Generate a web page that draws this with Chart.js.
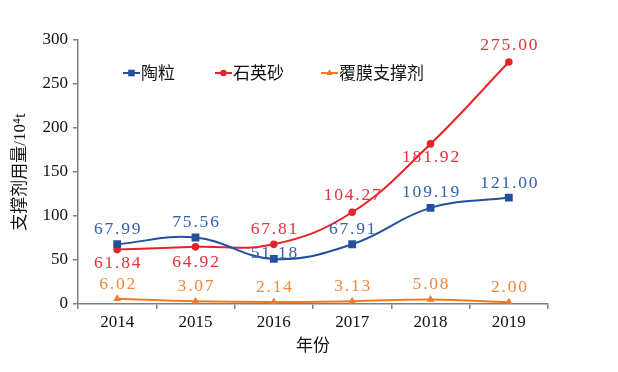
<!DOCTYPE html>
<html>
<head>
<meta charset="utf-8">
<script src="https://cdn.jsdelivr.net/npm/chart.js@4.4.1/dist/chart.umd.min.js"></script>
<style>
  html, body { margin: 0; padding: 0; background: #fff; }
  #wrap { width: 618px; height: 372px; position: relative; }
</style>
</head>
<body>
<div id="wrap"><canvas id="c"></canvas></div>
<script>
// ── datos ──
var YEARS = ['2014', '2015', '2016', '2017', '2018', '2019'];
var TAOLI = [67.99, 75.56, 51.18, 67.91, 109.19, 121.00];      // 陶粒
var SHIYING = [61.84, 64.92, 67.81, 104.27, 181.92, 275.00];  // 石英砂
var FUMO = [6.02, 3.07, 2.14, 3.13, 5.08, 2.00];              // 覆膜支撑剂
var Y_TICKS = [0, 50, 100, 150, 200, 250, 300];

// desplazamiento vertical de cada etiqueta respecto a su punto
var DY_TAOLI = [-15, -15, -6, -15, -16, -14];
var DY_SHIYING = [14, 16, -15, -17, 13, -17];
var DY_FUMO = [-14, -15, -15, -15, -15, -15];

var BLUE = '#234f9e', RED = '#e5242a', ORANGE = '#ee7a2a';
var SERIF = '"Liberation Serif", "Times New Roman", serif';
var CJK = '"Liberation Serif", "Noto Sans CJK SC", sans-serif';

var labelPlugin = {
  id: 'ptLabels',
  afterDatasetsDraw: function (chart) {
    var ctx = chart.ctx;
    var cols = ['#3261ad', '#e8303a', '#f0883a'];
    var dys = [DY_TAOLI, DY_SHIYING, DY_FUMO];
    ctx.save();
    ctx.font = '17.5px ' + SERIF;
    try { ctx.letterSpacing = '1.8px'; } catch (e) {}
    ctx.textAlign = 'center';
    ctx.textBaseline = 'middle';
    chart.data.datasets.forEach(function (ds, i) {
      var meta = chart.getDatasetMeta(i);
      ctx.fillStyle = cols[i];
      meta.data.forEach(function (pt, j) {
        ctx.fillText(ds.data[j].toFixed(2), pt.x + 1, pt.y + dys[i][j]);
      });
    });
    ctx.restore();
  }
};

var legendPlugin = {
  id: 'inLegend',
  afterDraw: function (chart) {
    var ctx = chart.ctx;
    var items = [[123, 0], [215, 1], [321, 2]];
    ctx.save();
    ctx.font = '17px "Noto Sans CJK SC", sans-serif';
    ctx.textBaseline = 'middle';
    items.forEach(function (it) {
      var ds = chart.data.datasets[it[1]];
      var y = 73;
      ctx.strokeStyle = ds.borderColor; ctx.lineWidth = 2;
      ctx.beginPath(); ctx.moveTo(it[0], y); ctx.lineTo(it[0] + 17, y); ctx.stroke();
      ctx.fillStyle = ds.borderColor;
      Chart.helpers.drawPoint(ctx, { pointStyle: ds.pointStyle, radius: ds.pointRadius * 0.85, borderWidth: 0 }, it[0] + 8.5, y);
      ctx.fillStyle = '#111';
      ctx.fillText(ds.label, it[0] + 18, y);
    });
    ctx.restore();
  }
};

function mk(label, data, col, style, r) {
  return { label: label, data: data, borderColor: col, backgroundColor: col, borderWidth: 2,
    pointStyle: style, pointRadius: r, pointHoverRadius: r, pointBorderWidth: 0, tension: 0.4, fill: false };
}

new Chart(document.getElementById('c'), {
  type: 'line',
  data: {
    labels: YEARS,
    datasets: [
      mk('陶粒', TAOLI, BLUE, 'rect', 5.5),
      mk('石英砂', SHIYING, RED, 'circle', 3.8),
      mk('覆膜支撑剂', FUMO, ORANGE, 'triangle', 4.5)
    ]
  },
  plugins: [labelPlugin, legendPlugin],
  options: {
    responsive: true, maintainAspectRatio: false, animation: false,
    layout: { padding: { left: 0, right: 70, top: 40, bottom: 0 } },
    plugins: { legend: { display: false }, tooltip: { enabled: false } },
    scales: {
      x: {
        offset: true,
        grid: { offset: true, drawOnChartArea: false, drawTicks: true, tickLength: 5, color: '#808080', lineWidth: 1.5 },
        border: { color: '#808080', width: 1.5 },
        ticks: { color: '#111', font: { family: SERIF, size: 17 }, padding: 3, maxRotation: 0 },
        title: { display: true, text: '年份', color: '#111', font: { family: CJK, size: 17 }, padding: { top: 4, bottom: 15 } },
        afterFit: function (s) { s.height = 68; }
      },
      y: {
        min: 0, max: 300,
        afterBuildTicks: function (s) { s.ticks = Y_TICKS.map(function (v) { return { value: v }; }); },
        grid: { drawOnChartArea: false, drawTicks: true, tickLength: 5, color: '#808080', lineWidth: 1.5 },
        border: { color: '#808080', width: 1.5 },
        ticks: { color: '#111', font: { family: SERIF, size: 17 }, padding: 5 },
        title: { display: true, text: '支撑剂用量/10⁴t', color: '#111', font: { family: CJK, size: 17 }, padding: { top: 10, bottom: 0 } },
        afterFit: function (s) { s.width = 78; }
      }
    }
  }
});
</script>
</body>
</html>
